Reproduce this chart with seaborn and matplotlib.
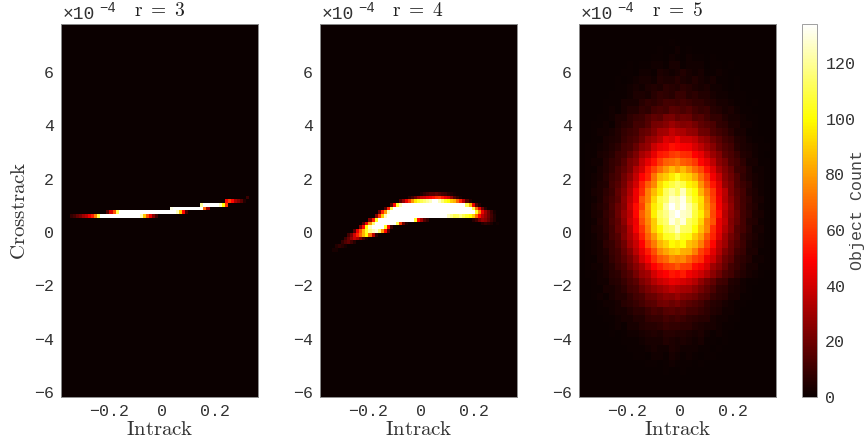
import numpy as np
import seaborn as sns
import matplotlib.pyplot as plt

sns.set_style('white')
plt.rcParams['font.family'] = ['Liberation Mono', 'DejaVu Sans Mono']
plt.rcParams['mathtext.fontset'] = 'cm'

W, H = 865, 448
XLIM = (-0.381, 0.362)
YLIM = (-6.19, 7.8)
N_ROWS, N_COLS = 100, 65
VMAX = 134

x_ticks = [-0.2, 0, 0.2]
x_tick_labels = ['\u22120.2', '0', '0.2']
y_ticks = [-6, -4, -2, 0, 2, 4, 6]
y_tick_labels = ['\u22126', '\u22124', '\u22122', '0', '2', '4', '6']
cbar_ticks = [0, 20, 40, 60, 80, 100, 120]
titles = ['r = 3', 'r = 4', 'r = 5']

# r = 3, rows 46 to 51 of the grid, counts (200 = clipped white)
r3_first_row = 46
r3_counts = [
    [0]*61 + [10],
    [0]*54 + [50, 62, 50, 32, 25, 16, 5],
    [0]*46 + [120, 200, 200, 200, 200, 200, 125, 100, 60],
    [0]*36 + [130, 200, 200, 200, 200, 200, 200, 200, 200, 200, 200, 70, 30],
    [0]*15 + [15, 40, 65, 110] + [200]*19 + [125, 90, 50, 12],
    [0]*3 + [8, 12, 18, 22, 30, 35, 45, 55, 75, 110] + [200]*13 + [125, 90, 65, 45, 25, 12],
]

# r = 4, rows 45 to 60
r4_first_row = 45
r4_counts = [
    [0]*33 + [4, 8, 12, 15, 15, 18, 15, 12, 10, 6, 4, 2],
    [0]*29 + [6, 12, 20, 30, 38, 40, 45, 48, 52, 58, 60, 52, 45, 40, 28, 15, 8, 3],
    [0]*26 + [15, 28, 45, 60, 78, 95, 105, 110, 115, 120, 125, 135, 135, 125, 115, 105, 100, 90, 85, 70, 55, 35, 15, 5],
    [0]*23 + [15, 50, 105, 125] + [200]*21 + [110, 85, 45, 15, 5],
    [0]*21 + [15, 55, 110] + [200]*26 + [110, 70, 45, 20, 6],
    [0]*19 + [20, 55, 80, 125] + [200]*28 + [105, 75, 45, 30, 20, 10, 3],
    [0]*18 + [25, 60, 90, 125] + [200]*20 + [125, 118, 110, 112, 118, 110, 105, 100, 90, 70, 50, 35, 28, 20, 12, 5],
    [0]*16 + [25, 55, 105] + [200]*12 + [105, 50, 30, 15, 8] + [0]*14 + [6, 12, 22, 28, 25, 18, 10, 5],
    [0]*14 + [15, 45, 80, 115] + [200]*7 + [110, 60, 20, 5] + [0]*24 + [5, 8, 6, 4, 0, 2],
    [0]*13 + [25, 50, 100, 125, 200, 200, 200, 200, 105, 50, 10],
    [0]*11 + [15, 45, 65, 85, 105, 118, 125, 130, 115, 80, 50, 15],
    [0]*9 + [12, 22, 40, 55, 70, 85, 100, 70, 35, 8],
    [0]*8 + [10, 18, 28, 38, 32, 22, 12, 4],
    [0]*7 + [8, 14, 18, 12, 6],
    [0]*5 + [5, 8, 6, 3],
    [0]*4 + [3, 3],
]

# r = 5, coarser 33 x 50 grid
r5_counts = [
    [0],
    [0],
    [0]*15 + [1],
    [0]*13 + [1, 0, 0, 2, 0, 1],
    [0]*12 + [1, 1, 0, 2, 1, 0, 2, 1, 1, 0, 1],
    [0]*8 + [1, 0, 1, 1, 2, 2, 1, 3, 3, 1, 2, 2, 2, 0, 1, 1, 0, 1],
    [0]*7 + [1, 1, 0, 2, 2, 1, 4, 3, 2, 3, 5, 3, 2, 3, 1, 1, 2, 1, 0],
    [0]*6 + [1, 0, 1, 2, 3, 3, 2, 5, 4, 4, 6, 4, 3, 5, 3, 2, 3, 1, 1, 0, 1],
    [0]*6 + [1, 1, 2, 3, 2, 4, 5, 4, 7, 6, 5, 7, 6, 4, 3, 4, 2, 2, 1, 0, 1],
    [0]*5 + [1, 1, 1, 2, 4, 4, 3, 6, 8, 7, 6, 9, 9, 6, 7, 5, 5, 3, 2, 2, 1, 1, 1],
    [0]*4 + [1, 1, 1, 3, 3, 3, 6, 8, 7, 9, 12, 11, 10, 12, 10, 8, 8, 6, 5, 3, 3, 2, 1, 1, 0, 1],
    [0]*4 + [1, 2, 1, 3, 5, 5, 8, 7, 11, 13, 12, 16, 15, 13, 15, 11, 9, 10, 6, 5, 3, 4, 2, 1, 1],
    [0]*3 + [1, 1, 2, 4, 4, 7, 9, 10, 14, 17, 16, 21, 22, 18, 20, 19, 14, 15, 11, 8, 8, 5, 3, 3, 2, 1, 1],
    [0]*2 + [1, 1, 2, 1, 4, 6, 7, 11, 11, 15, 21, 22, 25, 29, 26, 24, 25, 21, 17, 15, 13, 8, 7, 4, 4, 2, 2, 1],
    [0]*2 + [1, 2, 2, 3, 5, 8, 10, 12, 17, 19, 24, 30, 31, 37, 33, 32, 28, 27, 20, 19, 14, 11, 9, 6, 3, 3, 1, 1],
    [0]*2 + [1, 1, 3, 4, 5, 9, 12, 14, 19, 26, 29, 34, 42, 40, 46, 39, 39, 36, 29, 26, 20, 16, 11, 9, 5, 4, 2, 1, 1],
    [0] + [1, 1, 2, 3, 5, 7, 11, 13, 18, 25, 28, 38, 43, 46, 52, 50, 48, 47, 41, 36, 30, 25, 18, 14, 11, 6, 4, 3, 2, 1, 1],
    [0] + [1, 1, 3, 4, 6, 10, 12, 17, 23, 31, 36, 44, 53, 55, 60, 62, 58, 57, 49, 45, 37, 29, 24, 16, 13, 9, 5, 4, 2, 1, 0],
    [0] + [1, 2, 2, 5, 8, 10, 15, 22, 26, 37, 44, 52, 61, 68, 70, 73, 67, 65, 60, 50, 44, 36, 26, 21, 14, 11, 7, 3, 3, 1, 1],
    [0] + [1, 1, 3, 5, 8, 13, 17, 23, 33, 40, 53, 62, 71, 79, 86, 80, 86, 78, 70, 63, 52, 42, 31, 24, 18, 10, 9, 5, 2, 2, 1],
    [0] + [1, 2, 3, 6, 10, 13, 20, 27, 37, 49, 56, 72, 85, 90, 96, 104, 94, 91, 83, 71, 60, 47, 38, 26, 20, 14, 8, 5, 3, 2, 1],
    [0] + [1, 2, 4, 5, 11, 15, 21, 31, 40, 55, 67, 76, 93, 102, 108, 114, 109, 98, 94, 78, 65, 53, 42, 28, 22, 14, 10, 7, 3, 2, 1],
    [0] + [1, 3, 4, 7, 10, 17, 24, 33, 46, 58, 74, 86, 96, 112, 120, 113, 125, 108, 100, 85, 72, 60, 44, 35, 22, 16, 12, 6, 4, 2, 1],
    [0] + [1, 2, 4, 8, 12, 16, 26, 36, 46, 65, 75, 92, 108, 114, 127, 124, 131, 115, 103, 94, 76, 62, 47, 34, 25, 17, 11, 8, 4, 3, 1],
    [0] + [1, 3, 5, 7, 13, 19, 25, 38, 51, 62, 80, 96, 106, 121, 134, 125, 132, 122, 110, 93, 79, 65, 48, 37, 27, 17, 12, 7, 5, 2, 1],
    [0] + [1, 3, 4, 8, 12, 19, 28, 36, 50, 67, 78, 97, 112, 118, 128, 134, 127, 124, 108, 97, 82, 63, 51, 35, 26, 19, 11, 8, 4, 3, 1],
    [0] + [1, 2, 5, 7, 13, 17, 26, 38, 46, 64, 76, 90, 109, 115, 130, 122, 129, 113, 106, 92, 74, 65, 45, 37, 24, 18, 12, 6, 5, 2, 1],
    [0] + [1, 3, 4, 7, 11, 18, 23, 34, 47, 59, 73, 90, 99, 111, 116, 126, 113, 111, 100, 87, 75, 58, 45, 34, 25, 15, 12, 7, 3, 3, 1],
    [0] + [1, 2, 4, 6, 12, 15, 24, 32, 41, 55, 69, 80, 93, 104, 106, 114, 104, 102, 90, 81, 66, 56, 42, 30, 21, 16, 9, 6, 4, 2, 1],
    [0] + [1, 2, 3, 7, 9, 14, 20, 30, 38, 49, 63, 73, 85, 91, 99, 96, 100, 88, 84, 74, 61, 50, 36, 29, 19, 14, 10, 5, 3, 2, 1],
    [0] + [1, 2, 3, 5, 9, 12, 18, 25, 35, 44, 54, 64, 76, 82, 87, 90, 84, 83, 74, 62, 55, 43, 34, 24, 18, 11, 9, 4, 4, 1, 1],
    [0] + [1, 1, 3, 4, 8, 11, 16, 21, 29, 40, 48, 58, 66, 70, 77, 74, 76, 69, 62, 58, 46, 39, 29, 20, 16, 9, 7, 5, 2, 2, 1],
    [0] + [1, 2, 2, 4, 6, 10, 13, 19, 25, 31, 40, 49, 54, 60, 62, 66, 61, 60, 51, 47, 41, 30, 25, 18, 12, 9, 6, 3, 3, 1, 1],
    [0] + [1, 1, 2, 3, 6, 7, 12, 15, 21, 28, 31, 40, 46, 49, 53, 51, 54, 47, 43, 39, 33, 26, 20, 14, 11, 7, 5, 3, 2, 1, 0],
    [0]*2 + [1, 2, 2, 5, 6, 9, 13, 16, 23, 27, 33, 38, 41, 45, 43, 41, 38, 34, 27, 21, 17, 11, 10, 5, 4, 2, 1, 1],
    [0]*2 + [1, 1, 3, 3, 5, 7, 11, 13, 18, 22, 26, 29, 32, 36, 33, 31, 30, 26, 21, 17, 13, 8, 7, 4, 3, 2, 1],
    [0]*2 + [1, 2, 1, 3, 5, 5, 8, 11, 13, 18, 19, 23, 26, 25, 28, 24, 22, 20, 16, 14, 9, 7, 6, 3, 3, 1, 1],
    [0]*3 + [1, 2, 2, 3, 6, 7, 9, 12, 15, 16, 20, 21, 19, 21, 18, 16, 14, 12, 8, 6, 5, 3, 2, 1, 1],
    [0]*3 + [1, 1, 2, 3, 3, 5, 7, 7, 10, 13, 12, 15, 16, 14, 15, 12, 11, 9, 7, 5, 4, 2, 2, 1],
    [0]*4 + [1, 1, 2, 3, 3, 5, 5, 8, 9, 9, 12, 10, 12, 10, 8, 7, 6, 6, 3, 2, 2, 1, 1],
    [0]*5 + [1, 2, 1, 3, 3, 5, 6, 6, 7, 9, 8, 8, 7, 7, 5, 4, 3, 3, 2, 1, 1],
    [0]*5 + [1, 0, 1, 2, 2, 3, 4, 5, 4, 6, 6, 5, 5, 4, 3, 4, 2, 1, 2, 1],
    [0]*7 + [1, 1, 1, 2, 3, 3, 3, 5, 4, 3, 4, 3, 2, 3, 1, 1, 0, 1],
    [0]*8 + [1, 1, 1, 2, 3, 2, 2, 4, 3, 2, 2, 2, 1, 1, 0, 1],
    [0]*9 + [1, 1, 0, 2, 2, 1, 3, 2, 1, 2, 1, 0, 1, 1],
    [0]*11 + [1, 1, 0, 1, 2, 1, 1, 1, 0, 1],
    [0]*14 + [1, 0, 0, 1],
    [0],
    [0],
    [0],
]


def pad_rows(rows, width):
    return np.array([row + [0]*(width - len(row)) for row in rows], dtype=float)


def full_grid(first_row, rows):
    grid = np.zeros((N_ROWS, N_COLS))
    block = pad_rows(rows, N_COLS)
    grid[first_row:first_row + len(block)] = block
    return grid


def box(left, top, right, bottom):
    return [left/W, 1 - bottom/H, (right - left)/W, (bottom - top)/H]


grids = [full_grid(r3_first_row, r3_counts),
         full_grid(r4_first_row, r4_counts),
         pad_rows(r5_counts, 33)]
lefts = [61, 320, 579]

fig = plt.figure(figsize=(W/100, H/100), dpi=100)
cax = fig.add_axes(box(802, 24, 817, 397))

for i, grid in enumerate(grids):
    ax = fig.add_axes(box(lefts[i], 24, lefts[i] + 197, 397))
    last = i == 2
    sns.heatmap(grid, ax=ax, cmap='hot', vmin=0, vmax=VMAX, cbar=last,
                cbar_ax=cax if last else None, xticklabels=False, yticklabels=False)
    n_r, n_c = grid.shape
    # heatmap works in cell units, so map the data ticks onto them
    ax.set_xticks([(v - XLIM[0])/(XLIM[1] - XLIM[0])*n_c for v in x_ticks])
    ax.set_xticklabels(x_tick_labels, fontsize=12, color='#333333')
    ax.set_yticks([(YLIM[1] - v)/(YLIM[1] - YLIM[0])*n_r for v in y_ticks])
    ax.set_yticklabels(y_tick_labels, fontsize=12, color='#333333', rotation=0)
    ax.tick_params(length=0, pad=5)
    for s in ax.spines.values():
        s.set_visible(True)
        s.set_color('#8c8c8c')
        s.set_linewidth(0.7)
    ax.set_xlabel(r'$\mathrm{Intrack}$', fontsize=15, color='#333333', labelpad=1)
    ax.set_title(r'$\mathrm{%s}$' % titles[i].replace(' ', r'\ '), fontsize=14, color='#222222', pad=6)
    ax.text(2/197, 1.002, '\u00d710', transform=ax.transAxes, fontsize=13, color='#333333', va='bottom')
    ax.text(38/197, 1.025, '\u22124', transform=ax.transAxes, fontsize=10, color='#333333', va='bottom')
    if i == 0:
        ax.set_ylabel(r'$\mathrm{Crosstrack}$', fontsize=15, color='#333333', labelpad=4)

cax.set_yticks(cbar_ticks)
cax.set_yticklabels([str(v) for v in cbar_ticks], fontsize=12, color='#333333')
cax.tick_params(length=3, width=0.6, color='#8c8c8c', direction='in', pad=6)
cbar = ax.collections[0].colorbar
cbar.outline.set_visible(True)
cbar.outline.set_edgecolor('#a0a0a0')
cbar.outline.set_linewidth(0.7)
fig.text(857.5/W, 1 - 210/H, 'Object Count', rotation=90, ha='center', va='center', fontsize=12, color='#444444')

fig.savefig('out.png', dpi=100)
